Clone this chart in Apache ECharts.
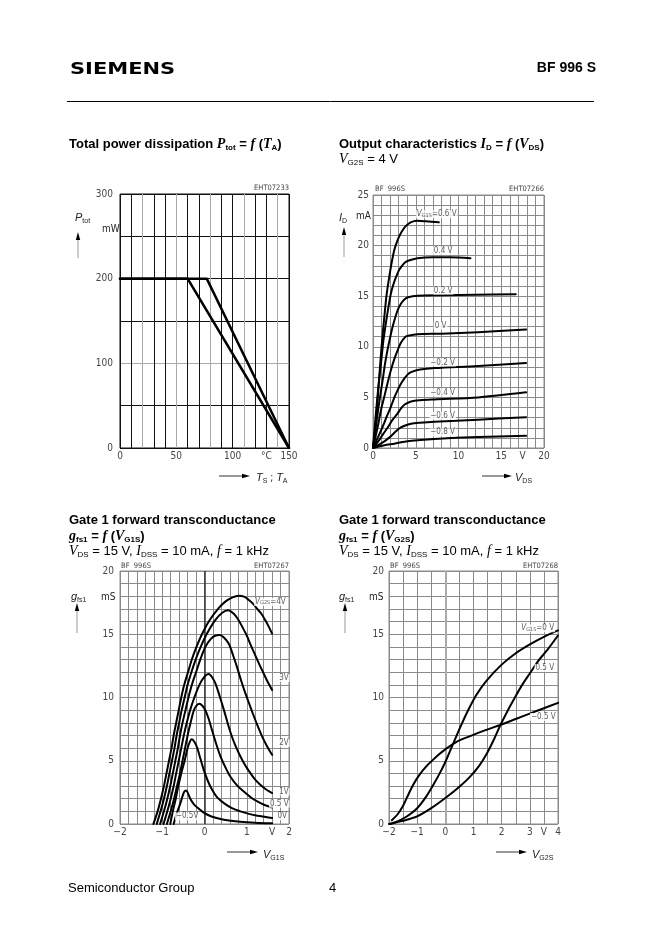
<!DOCTYPE html>
<html>
<head>
<meta charset="utf-8">
<script src="https://cdn.jsdelivr.net/npm/echarts@6/dist/echarts.min.js"></script>
<style>html,body{margin:0;padding:0;background:#fff}#c{width:662px;height:936px}</style>
</head>
<body>
<div id="c"></div>
<script>
// ---------------- DATA ----------------
// Chart 1: total power dissipation (mW) vs temperature (deg C)
const p1_T_A = [0, 60, 150];
const p1_P_A = [200, 200, 0];
const p1_T_S = [0, 77, 150];
const p1_P_S = [200, 200, 0];
const p1_xTicks = [[0,'0'],[50,'50'],[100,'100'],[130,'°C'],[150,'150']];
const p1_yTicks = [[0,'0'],[100,'100'],[200,'200'],[300,'300']];

// Chart 2: output characteristics I_D (mA) vs V_DS (V), V_G1S curves
const id_p06 = [[0,0],[0.2,1.4],[0.45,3.8],[0.74,7.1],[1.0,10.0],[1.33,13.0],[1.6,15.2],[1.9,16.9],[2.2,18.4],[2.5,19.6],[2.9,20.6],[3.3,21.3],[3.8,21.9],[4.4,22.3],[5.2,22.45],[6.2,22.4],[7.7,22.3]];
const id_p04 = [[0,0],[0.35,3.5],[0.65,6.2],[0.94,8.4],[1.2,10.5],[1.5,12.3],[1.8,13.9],[2.1,15.3],[2.4,16.2],[2.7,16.9],[3.0,17.5],[3.3,17.9],[3.7,18.3],[4.1,18.5],[5.2,18.75],[7,18.85],[9,18.85],[11.4,18.75]];
const id_p02 = [[0,0],[0.55,3.45],[0.85,5.2],[1.13,6.7],[1.4,8.3],[1.7,9.7],[2.0,10.9],[2.3,12.0],[2.6,12.9],[2.9,13.65],[3.3,14.3],[3.7,14.7],[4.1,14.9],[5.2,15.05],[8,15.1],[12,15.15],[16.7,15.2]];
const id_0   = [[0,0],[0.55,2.1],[0.95,3.8],[1.33,5.1],[1.7,6.4],[2.1,7.7],[2.5,8.8],[2.9,9.7],[3.2,10.3],[3.5,10.7],[3.8,11.0],[4.1,11.1],[5.2,11.25],[8,11.3],[12.3,11.45],[17.9,11.7]];
const id_m02 = [[0,0],[0.6,1.1],[1.13,2.1],[1.6,3.1],[2.1,4.1],[2.5,5.0],[2.9,5.75],[3.3,6.4],[3.7,6.9],[4.1,7.3],[4.45,7.5],[5.5,7.75],[7.2,7.9],[12.3,8.1],[17.9,8.4]];
const id_m04 = [[0,0],[0.74,0.8],[1.2,1.4],[1.7,2.0],[2.3,2.8],[2.9,3.45],[3.3,3.95],[3.7,4.3],[4.45,4.6],[5.5,4.72],[7.2,4.8],[12.3,5.0],[17.9,5.5]];
const id_m06 = [[0,0],[1.33,0.66],[2.0,1.1],[2.5,1.5],[3.1,1.95],[3.7,2.2],[4.45,2.4],[5.5,2.5],[7.2,2.6],[12.3,2.8],[17.9,3.05]];
const id_m08 = [[0,0],[0.8,0.18],[1.6,0.32],[2.5,0.43],[3.5,0.6],[4.5,0.72],[7.2,0.9],[12.3,1.09],[17.9,1.2]];
const c2_labels = [
  [7.45, 23.1, '{i|V}{s|G1S}{n|=0.6 V}'],
  [8.2, 19.5, '{n|0.4 V}'],
  [8.2, 15.55, '{n|0.2 V}'],
  [7.9, 12.07, '{n|0 V}'],
  [8.15, 8.45, '{n|−0.2 V}'],
  [8.15, 5.49, '{n|−0.4 V}'],
  [8.15, 3.19, '{n|−0.6 V}'],
  [8.15, 1.54, '{n|−0.8 V}']
];
const c2_xTicks = [[0,'0'],[5,'5'],[10,'10'],[15,'15'],[17.5,'V'],[20,'20']];
const c2_yTicks = [[0,'0'],[5,'5'],[10,'10'],[15,'15'],[20,'20'],[25,'25']];

// Chart 3: g_fs1 (mS) vs V_G1S (V), V_G2S curves
const g1_4   = [[-1.21,0],[-1.11,1],[-1.03,2],[-0.96,3],[-0.9,4],[-0.84,5],[-0.78,6],[-0.73,7],[-0.67,8],[-0.61,9],[-0.55,10],[-0.48,11],[-0.39,12],[-0.3,13],[-0.19,14],[-0.06,15],[0.12,16.1],[0.33,17.05],[0.5,17.6],[0.65,17.9],[0.81,18.05],[0.95,17.95],[1.05,17.7],[1.15,17.4],[1.25,17.0],[1.35,16.6],[1.44,16.1],[1.52,15.6],[1.6,15.05]];
const g1_3   = [[-1.13,0],[-1.04,1],[-0.96,2],[-0.89,3],[-0.83,4],[-0.77,5],[-0.71,6],[-0.66,7],[-0.6,8],[-0.54,9],[-0.47,10],[-0.4,11],[-0.31,12],[-0.21,13],[-0.09,14],[0.05,15],[0.25,16.1],[0.42,16.7],[0.56,16.9],[0.7,16.6],[0.8,16.15],[0.9,15.55],[1.0,14.9],[1.1,14.1],[1.2,13.35],[1.3,12.6],[1.4,11.9],[1.5,11.2],[1.6,10.6]];
const g1_2   = [[-1.05,0],[-0.96,1],[-0.88,2],[-0.81,3],[-0.75,4],[-0.69,5],[-0.63,6],[-0.58,7],[-0.52,8],[-0.45,9],[-0.38,10],[-0.3,11],[-0.2,12],[-0.1,13],[0.02,14],[0.14,14.6],[0.26,14.9],[0.36,14.95],[0.46,14.75],[0.575,14.25],[0.67,13.4],[0.77,12.4],[0.87,11.3],[0.97,10.3],[1.07,9.4],[1.17,8.5],[1.27,7.65],[1.36,6.95],[1.48,6.15],[1.6,5.47]];
const g1_1   = [[-0.97,0],[-0.88,1],[-0.8,2],[-0.73,3],[-0.67,4],[-0.61,5],[-0.55,6],[-0.49,7],[-0.42,8],[-0.34,9],[-0.24,10],[-0.12,11],[0.0,11.65],[0.1,11.85],[0.18,11.6],[0.26,11.1],[0.36,10.1],[0.46,9.0],[0.55,7.95],[0.65,6.9],[0.75,6.05],[0.85,5.33],[0.97,4.6],[1.09,4.0],[1.2,3.5],[1.32,3.1],[1.45,2.75],[1.6,2.45]];
const g1_05  = [[-0.89,0],[-0.8,1],[-0.72,2],[-0.65,3],[-0.58,4],[-0.52,5],[-0.46,6],[-0.4,7],[-0.33,8],[-0.25,9],[-0.18,9.4],[-0.12,9.5],[-0.05,9.35],[0.02,9.0],[0.1,8.3],[0.18,7.4],[0.28,6.3],[0.38,5.33],[0.5,4.45],[0.61,3.75],[0.77,3.05],[0.93,2.57],[1.1,2.1],[1.25,1.78],[1.42,1.5],[1.6,1.3]];
const g1_0   = [[-0.81,0],[-0.75,1],[-0.68,2],[-0.62,3],[-0.55,4],[-0.47,5],[-0.4,6],[-0.34,6.55],[-0.3,6.7],[-0.24,6.5],[-0.17,6.0],[-0.1,5.2],[-0.02,4.3],[0.08,3.4],[0.18,2.7],[0.3,2.1],[0.46,1.65],[0.65,1.25],[0.85,1.0],[1.05,0.8],[1.25,0.65],[1.45,0.55],[1.6,0.47]];
const g1_m05 = [[-0.73,0],[-0.69,0.47],[-0.63,1.1],[-0.57,1.65],[-0.52,2.2],[-0.48,2.55],[-0.44,2.65],[-0.4,2.5],[-0.33,1.95],[-0.25,1.55],[-0.17,1.3],[-0.05,0.98],[0.06,0.75],[0.2,0.55],[0.46,0.34],[0.85,0.18],[1.2,0.1],[1.6,0.05]];
const c3_labels = [
  [1.56, 17.55, '{i|V}{s|G2S}{n|=4V}'],
  [1.88, 11.54, '{n|3V}'],
  [1.88, 6.41, '{n|2V}'],
  [1.88, 2.57, '{n|1V}'],
  [1.77, 1.6, '{n|0.5 V}'],
  [1.84, 0.6, '{n|0V}'],
  [-0.41, 0.6, '{n|−0.5V}']
];
const c3_xTicks = [[-2,'−2'],[-1,'−1'],[0,'0'],[1,'1'],[1.6,'V'],[2,'2']];
const c3_yTicks = [[0,'0'],[5,'5'],[10,'10'],[15,'15'],[20,'20']];

// Chart 4: g_fs1 (mS) vs V_G2S (V), V_G1S curves
const g2_0   = [[-1.96,0],[-1.7,0.2],[-1.4,0.55],[-1.0,1.25],[-0.7,2.1],[-0.4,3.2],[-0.2,4.0],[0,4.9],[0.23,6.1],[0.5,7.5],[0.8,8.95],[1.1,10.2],[1.45,11.3],[2.0,12.6],[2.5,13.5],[3.0,14.2],[3.5,14.8],[4.0,15.3]];
const g2_p05 = [[-2,0],[-1.5,0.25],[-1.0,0.6],[-0.5,1.25],[0,2.05],[0.5,2.95],[0.88,3.75],[1.2,4.6],[1.48,5.6],[1.75,6.8],[1.95,7.8],[2.2,8.9],[2.42,9.8],[2.7,10.9],[3.0,11.9],[3.3,12.9],[3.6,13.7],[4.0,14.9]];
const g2_m05 = [[-1.9,0.3],[-1.7,0.75],[-1.5,1.45],[-1.35,2.15],[-1.2,2.85],[-1.05,3.45],[-0.9,3.95],[-0.7,4.5],[-0.45,5.05],[-0.2,5.55],[0,5.9],[0.4,6.5],[0.88,6.95],[1.4,7.4],[1.95,7.83],[2.5,8.3],[3.02,8.75],[3.5,9.15],[4.03,9.6]];
const c4_labels = [
  [3.28, 15.48, '{i|V}{s|G1S}{n|=0 V}'],
  [3.53, 12.33, '{n|0.5 V}'],
  [3.48, 8.46, '{n|−0.5 V}']
];
const c4_xTicks = [[-2,'−2'],[-1,'−1'],[0,'0'],[1,'1'],[2,'2'],[3,'3'],[3.5,'V'],[4,'4']];
const c4_yTicks = [[0,'0'],[5,'5'],[10,'10'],[15,'15'],[20,'20']];

// ---------------- STYLE HELPERS ----------------
const SANS = "'Liberation Sans', Arial, Helvetica, sans-serif";
const SERIF = "'Liberation Serif', 'Times New Roman', serif";
const COND = "'Liberation Sans Narrow', 'DejaVu Sans Condensed', 'Liberation Sans', sans-serif";
const LBL = '#444';

function tickFmt(list) {
  return function (v) {
    for (const t of list) { if (Math.abs(v - t[0]) < 1e-6) return t[1]; }
    return '';
  };
}
function zip(xs, ys) { return xs.map((x, i) => [x, ys[i]]); }

function vAxis(gi, min, max, interval, ticks, splitColor, margin) {
  return {
    gridIndex: gi, type: 'value', min: min, max: max, interval: interval,
    axisLine: { show: false }, axisTick: { show: false },
    splitLine: { show: true, lineStyle: { color: splitColor, width: 1 } },
    axisLabel: { show: true, formatter: tickFmt(ticks), color: LBL, fontSize: 10, fontFamily: COND, margin: margin, showMinLabel: true, showMaxLabel: true, hideOverlap: false }
  };
}

function curve(data, gi, width, smooth) {
  return {
    type: 'line', xAxisIndex: gi, yAxisIndex: gi, data: data,
    showSymbol: false, symbol: 'none', smooth: smooth,
    lineStyle: { color: '#000', width: width, join: 'round', cap: 'round' }, silent: true, animation: false, z: 5
  };
}

const LRICH = {
  n: { fontSize: 8, fontFamily: COND, color: '#333' },
  i: { fontSize: 8, fontFamily: COND, fontStyle: 'italic', color: '#333' },
  s: { fontSize: 5.5, fontFamily: COND, color: '#333', verticalAlign: 'bottom', lineHeight: 6 }
};
function labelSeries(arr, gi) {
  return {
    type: 'scatter', xAxisIndex: gi, yAxisIndex: gi, symbolSize: 1,
    itemStyle: { color: 'rgba(0,0,0,0)' },
    data: arr.map(a => ({ value: [a[0], a[1]], name: a[2] })),
    label: { show: true, position: 'inside', formatter: p => p.name, backgroundColor: '#fff', padding: [0, 1], color: '#333', fontSize: 8, fontFamily: COND, rich: LRICH },
    z: 10, silent: true, animation: false
  };
}
function zeroLine(color, width) {
  return { silent: true, symbol: ['none', 'none'], data: [{ xAxis: 0 }], lineStyle: { color: color, width: width, type: 'solid' }, label: { show: false }, animation: false };
}

// graphic helpers
const TRICH = {
  b: { fontFamily: SANS, fontWeight: 'bold', fontSize: 13, lineHeight: 16 },
  ib: { fontFamily: SERIF, fontWeight: 'bold', fontStyle: 'italic', fontSize: 14, lineHeight: 16 },
  sb: { fontFamily: SANS, fontWeight: 'bold', fontSize: 8, lineHeight: 7, verticalAlign: 'bottom' },
  r: { fontFamily: SANS, fontSize: 13, lineHeight: 16 },
  ir: { fontFamily: SERIF, fontStyle: 'italic', fontSize: 14, lineHeight: 16 },
  sr: { fontFamily: SANS, fontSize: 8, lineHeight: 7, verticalAlign: 'bottom' }
};
const ARICH = {
  i: { fontFamily: SANS, fontStyle: 'italic', fontSize: 11, lineHeight: 13, fill: '#222' },
  s: { fontFamily: SANS, fontSize: 7, lineHeight: 7, verticalAlign: 'bottom', fill: '#222' },
  n: { fontFamily: COND, fontSize: 10, lineHeight: 13, fill: '#222' }
};
function txt(x, y, text, extra) {
  return { type: 'text', x: x, y: y, silent: true, z: 20,
    style: Object.assign({ text: text, fill: '#000', fontFamily: SANS, fontSize: 13, align: 'left', verticalAlign: 'middle' }, extra || {}) };
}
function rtxt(x, y, text, rich, align) {
  return txt(x, y, text, { rich: rich, align: align || 'left' });
}
function upArrow(x, yTop, yBot) {
  return [
    { type: 'line', silent: true, z: 20, shape: { x1: x, y1: yBot, x2: x, y2: yTop + 6 }, style: { stroke: '#999', lineWidth: 1 } },
    { type: 'polygon', silent: true, z: 20, shape: { points: [[x, yTop], [x - 2.2, yTop + 8], [x + 2.2, yTop + 8]] }, style: { fill: '#000' } }
  ];
}
function rightArrow(xL, xR, y) {
  return [
    { type: 'line', silent: true, z: 20, shape: { x1: xL, y1: y, x2: xR - 6, y2: y }, style: { stroke: '#333', lineWidth: 1 } },
    { type: 'polygon', silent: true, z: 20, shape: { points: [[xR, y], [xR - 8, y - 2.2], [xR - 8, y + 2.2]] }, style: { fill: '#000' } }
  ];
}
function small(x, y, text, align) {
  return txt(x, y, text, { fontFamily: COND, fontSize: 7.5, fill: '#444', align: align || 'left' });
}

// ---------------- OPTION ----------------
const G1 = '#111', G1L = '#aaa', GG = '#8a8a8a';
const chart = echarts.init(document.getElementById('c'), null, { renderer: 'canvas', width: 662, height: 936 });

const graphics = [].concat(
  [
    { type: 'text', x: 70, y: 70, scaleX: 1.4, silent: true, style: { text: 'SIEMENS', fill: '#000', fontFamily: "'DejaVu Sans', sans-serif", fontWeight: 'bold', fontSize: 15, align: 'left', verticalAlign: 'middle' } },
    txt(596, 68, 'BF 996 S', { fontWeight: 'bold', fontSize: 14, align: 'right' }),
    { type: 'line', silent: true, shape: { x1: 67, y1: 101.5, x2: 594, y2: 101.5 }, style: { stroke: '#000', lineWidth: 1 } },
    txt(68, 888, 'Semiconductor Group', { fontSize: 13 }),
    txt(329, 888, '4', { fontSize: 13 }),

    rtxt(69, 144, '{b|Total power dissipation }{ib|P}{sb|tot}{b| = }{ib|f}{b| (}{ib|T}{sb|A}{b|)}', TRICH),
    rtxt(339, 144, '{b|Output characteristics }{ib|I}{sb|D}{b| = }{ib|f}{b| (}{ib|V}{sb|DS}{b|)}', TRICH),
    rtxt(339, 159, '{ir|V}{sr|G2S}{r| = 4 V}', TRICH),
    rtxt(69, 520, '{b|Gate 1 forward transconductance}', TRICH),
    rtxt(69, 536, '{ib|g}{sb|fs1}{b| = }{ib|f}{b| (}{ib|V}{sb|G1S}{b|)}', TRICH),
    rtxt(69, 551, '{ir|V}{sr|DS}{r| = 15 V, }{ir|I}{sr|DSS}{r| = 10 mA, }{ir|f}{r| = 1 kHz}', TRICH),
    rtxt(339, 520, '{b|Gate 1 forward transconductance}', TRICH),
    rtxt(339, 536, '{ib|g}{sb|fs1}{b| = }{ib|f}{b| (}{ib|V}{sb|G2S}{b|)}', TRICH),
    rtxt(339, 551, '{ir|V}{sr|DS}{r| = 15 V, }{ir|I}{sr|DSS}{r| = 10 mA, }{ir|f}{r| = 1 kHz}', TRICH),

    // chart 1 annotations
    rtxt(75, 218, '{i|P}{s|tot}', ARICH),
    rtxt(102, 229, '{n|mW}', ARICH),
    small(289, 188, 'EHT07233', 'right'),
    rtxt(256, 478, '{i|T}{s|S}{n| ; }{i|T}{s|A}', ARICH),

    // chart 2 annotations
    rtxt(339, 218, '{i|I}{s|D}', ARICH),
    rtxt(356, 216, '{n|mA}', ARICH),
    small(375, 189, 'BF  996S'),
    small(544, 189, 'EHT07266', 'right'),
    rtxt(515, 478, '{i|V}{s|DS}', ARICH),

    // chart 3 annotations
    rtxt(71, 597, '{i|g}{s|fs1}', ARICH),
    rtxt(101, 597, '{n|mS}', ARICH),
    small(121, 566, 'BF  996S'),
    small(289, 566, 'EHT07267', 'right'),
    rtxt(263, 855, '{i|V}{s|G1S}', ARICH),

    // chart 4 annotations
    rtxt(339, 597, '{i|g}{s|fs1}', ARICH),
    rtxt(369, 597, '{n|mS}', ARICH),
    small(390, 566, 'BF  996S'),
    small(558, 566, 'EHT07268', 'right'),
    rtxt(532, 855, '{i|V}{s|G2S}', ARICH)
  ],
  upArrow(78, 232, 258), rightArrow(219, 250, 476),
  upArrow(344, 227, 257), rightArrow(482, 512, 476),
  upArrow(77, 603, 633), rightArrow(227, 258, 852),
  upArrow(345, 603, 633), rightArrow(496, 527, 852)
);

const SM = 0.3;
const option = {
  animation: false,
  backgroundColor: '#fff',
  grid: [
    { left: 120, top: 194, width: 169, height: 254, show: true, borderColor: G1, borderWidth: 1, backgroundColor: 'transparent' },
    { left: 373, top: 195, width: 171, height: 253, show: true, borderColor: GG, borderWidth: 1, backgroundColor: 'transparent' },
    { left: 120, top: 571, width: 169, height: 253, show: true, borderColor: GG, borderWidth: 1, backgroundColor: 'transparent' },
    { left: 389, top: 571, width: 169, height: 253, show: true, borderColor: GG, borderWidth: 1, backgroundColor: 'transparent' }
  ],
  xAxis: [
    vAxis(0, 0, 150, 10, p1_xTicks, [G1, G1, G1L], 3),
    vAxis(1, 0, 20, 0.5, c2_xTicks, [GG, 'rgba(0,0,0,0)'], 3),
    vAxis(2, -2, 2, 0.2, c3_xTicks, GG, 3),
    vAxis(3, -2, 4, 0.5, c4_xTicks, GG, 3)
  ],
  yAxis: [
    vAxis(0, 0, 300, 50, p1_yTicks, [G1, G1, G1L, G1, G1, G1, G1], 7),
    vAxis(1, 0, 25, 1, c2_yTicks, GG, 4),
    vAxis(2, 0, 20, 1, c3_yTicks, GG, 6),
    vAxis(3, 0, 20, 1, c4_yTicks, GG, 5)
  ],
  series: [
    curve(zip(p1_T_A, p1_P_A), 0, 2.5, false),
    curve(zip(p1_T_S, p1_P_S), 0, 2.5, false),

    curve(id_p06, 1, 2, SM), curve(id_p04, 1, 2, SM), curve(id_p02, 1, 2, SM), curve(id_0, 1, 2, SM),
    curve(id_m02, 1, 2, SM), curve(id_m04, 1, 2, SM), curve(id_m06, 1, 2, SM), curve(id_m08, 1, 2, SM),
    labelSeries(c2_labels, 1),

    Object.assign(curve(g1_4, 2, 2, SM), { markLine: zeroLine('#333', 1.5) }),
    curve(g1_3, 2, 2, SM), curve(g1_2, 2, 2, SM), curve(g1_1, 2, 2, SM),
    curve(g1_05, 2, 2, SM), curve(g1_0, 2, 2, SM), curve(g1_m05, 2, 2, SM),
    labelSeries(c3_labels, 2),

    Object.assign(curve(g2_0, 3, 2, SM), { markLine: zeroLine('#aaa', 2) }),
    curve(g2_p05, 3, 2, SM), curve(g2_m05, 3, 2, SM),
    labelSeries(c4_labels, 3)
  ],
  graphic: { elements: graphics }
};
chart.setOption(option);
</script>
</body>
</html>
